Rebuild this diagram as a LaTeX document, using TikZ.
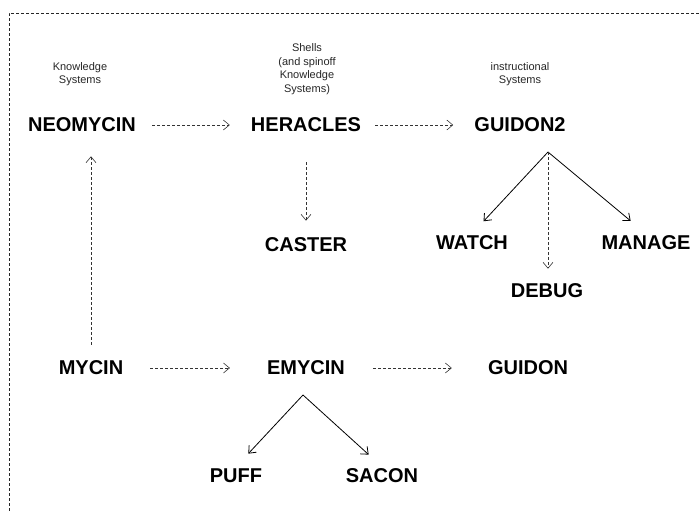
\documentclass[tikz,border=0pt]{standalone}
\usepackage{fontspec}
\setmainfont{Liberation Sans}
\usetikzlibrary{arrows.meta}
\tikzset{
    sysname/.style={font=\fontsize{20}{21}\selectfont\bfseries, inner sep=2pt},
    grouplabel/.style={font=\fontsize{11}{13.5}\selectfont, align=center, text=black!85},
    dashlink/.style={draw=black!80, densely dashed, line width=0.6pt, -{Straight Barb[length=6pt, width=10pt]}},
    solidlink/.style={draw=black, line width=0.8pt, -{Straight Barb[length=6pt, width=10pt]}},
    frameline/.style={draw=black!85, densely dashed, line width=1pt}
}
\begin{document}
\begin{tikzpicture}[x=1pt, y=-1pt]
    \useasboundingbox (0,0) rectangle (699,512);
    % frame, open on the right and at the bottom
    \draw[frameline] (699,13) -- (9,13) -- (9,512);
    % column headings
    \node[grouplabel] (kslabel) at (80,74) {Knowledge\\Systems};
    \node[grouplabel] (shlabel) at (307,69) {Shells\\(and spinoff\\Knowledge\\Systems)};
    \node[grouplabel] (islabel) at (520,74) {instructional\\Systems};
    % systems
    \node[sysname] (neomycin) at (82,125) {NEOMYCIN};
    \node[sysname] (heracles) at (306,125) {HERACLES};
    \node[sysname] (guidontwo) at (520,125) {GUIDON2};
    \node[sysname] (caster) at (306,245) {CASTER};
    \node[sysname] (watch) at (472,243) {WATCH};
    \node[sysname] (manage) at (646,243) {MANAGE};
    \node[sysname] (debug) at (547,291) {DEBUG};
    \node[sysname] (mycin) at (91,368) {MYCIN};
    \node[sysname] (emycin) at (306,368) {EMYCIN};
    \node[sysname] (guidon) at (528,368) {GUIDON};
    \node[sysname] (puff) at (236,476) {PUFF};
    \node[sysname] (sacon) at (382,476) {SACON};
    % links
    \draw[dashlink, shorten <=14pt, shorten >=19pt] (neomycin) -- (heracles);
    \draw[dashlink, shorten <=12pt, shorten >=19pt] (heracles) -- (guidontwo);
    \draw[dashlink, shorten <=28pt, shorten >=15pt] (caster |- heracles.south) -- (caster.north);
    \draw[dashlink, shorten <=14pt, shorten >=22pt] (mycin.north) -- (mycin |- neomycin.south);
    \draw[dashlink, shorten <=25pt, shorten >=35pt] (mycin) -- (emycin);
    \draw[dashlink, shorten <=26pt, shorten >=34pt] (emycin) -- (guidon);
    \coordinate (gtop) at (548,152);
    \coordinate (etop) at (303,395);
    \draw[solidlink, shorten >=17pt] (gtop) -- (watch.north);
    \draw[solidlink, shorten >=20pt] (gtop) -- (manage.north);
    \draw[dashlink, shorten >=13pt] (gtop) -- (gtop |- debug.north);
    \draw[solidlink, shorten >=18pt] (etop) -- (puff.north);
    \draw[solidlink, shorten >=18pt] (etop) -- (sacon.north);
\end{tikzpicture}
\end{document}
